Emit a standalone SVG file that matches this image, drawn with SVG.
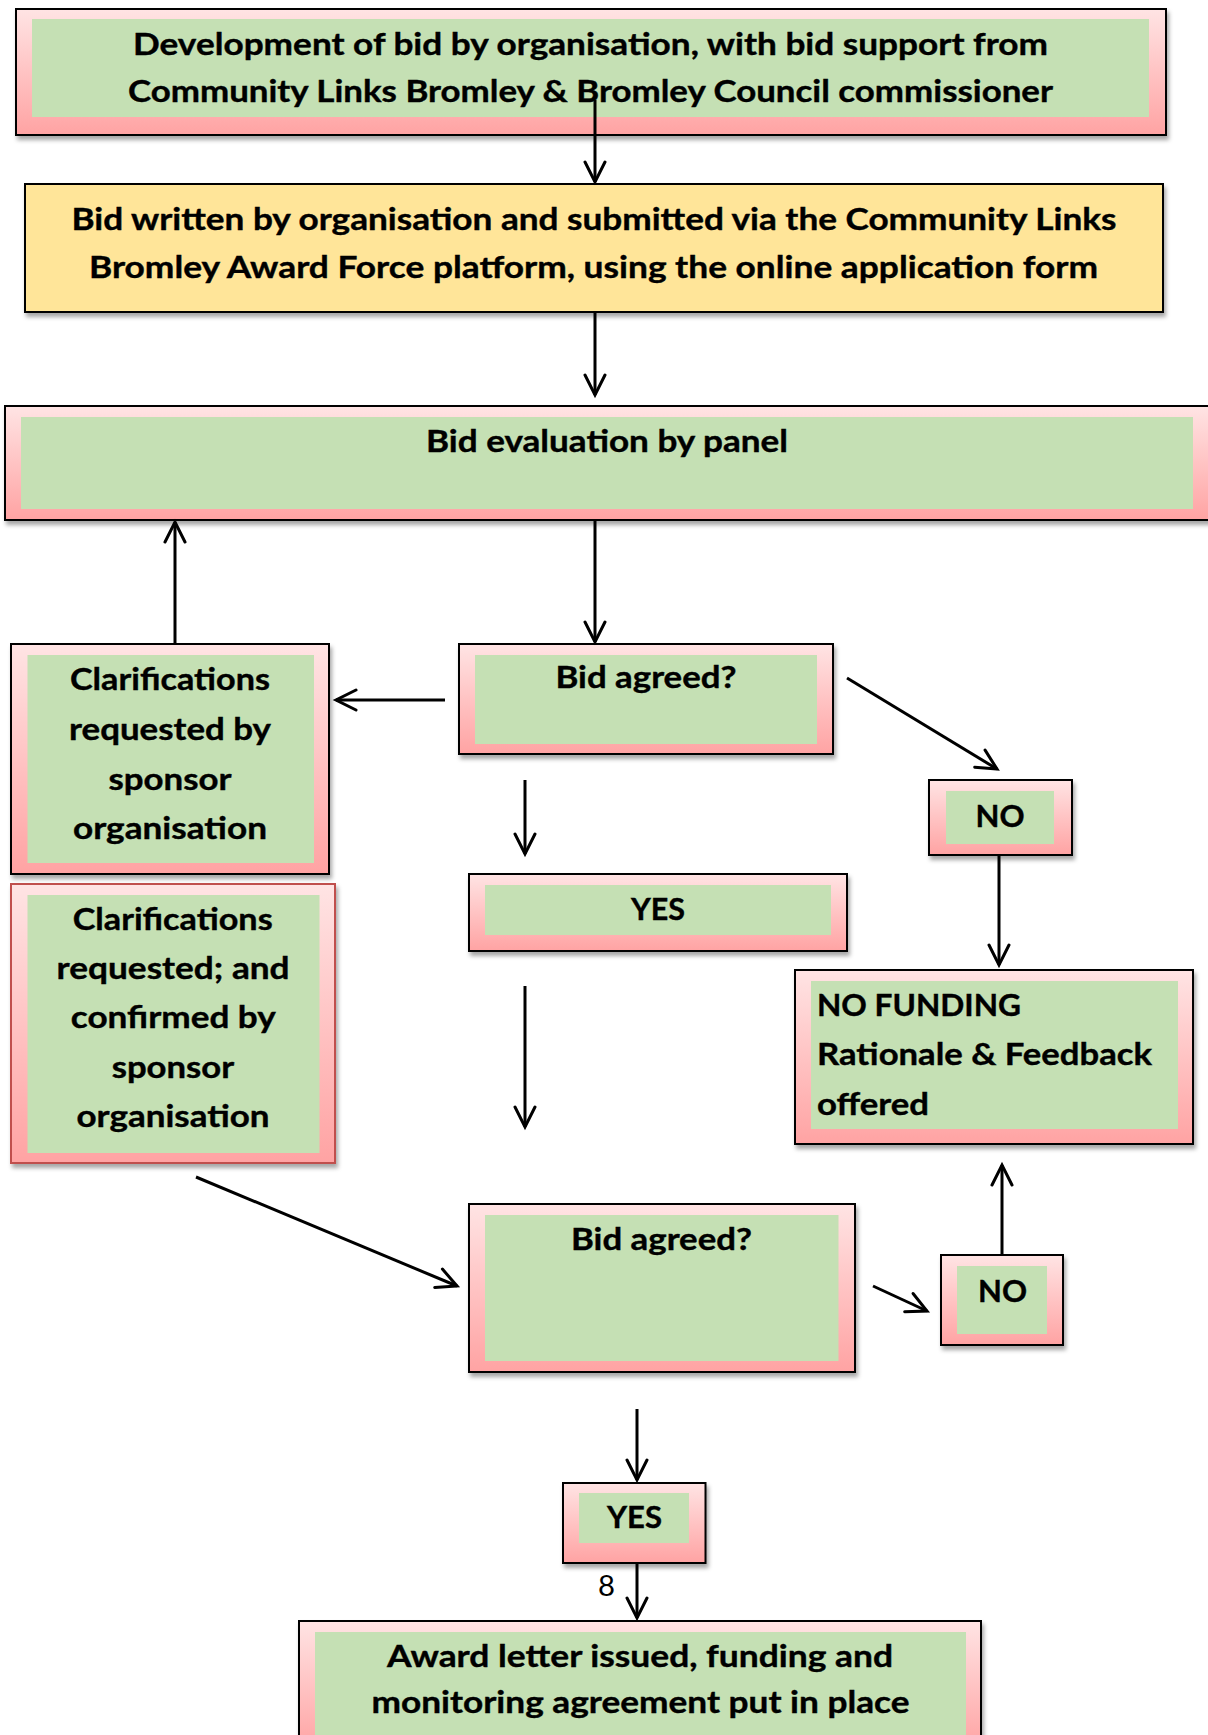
<svg xmlns="http://www.w3.org/2000/svg" width="1208" height="1735" viewBox="0 0 1208 1735">
<defs>
<linearGradient id="pink" x1="0" y1="0" x2="0" y2="1">
<stop offset="0" stop-color="#FFE4E4"/>
<stop offset="1" stop-color="#FFA3A3"/>
</linearGradient>
<filter id="sh" x="-5%" y="-10%" width="110%" height="130%">
<feDropShadow dx="2" dy="4" stdDeviation="2" flood-color="#000" flood-opacity="0.35"/>
</filter>
<marker id="arr" markerUnits="userSpaceOnUse" markerWidth="26" markerHeight="26" viewBox="0 0 26 26" refX="22" refY="12" orient="auto">
<path d="M2,2 L22,12 L2,22" fill="none" stroke="#000" stroke-width="3" stroke-linecap="round" stroke-linejoin="miter"/>
</marker>
</defs>
<style>
.outer{fill:url(#pink);stroke:#000;stroke-width:2;filter:url(#sh)}
.outerR{fill:url(#pink);stroke:#C0504D;stroke-width:2;filter:url(#sh)}
.yel{fill:#FFE599;stroke:#000;stroke-width:2;filter:url(#sh)}
.inner{fill:#C5E0B4}
.t{font-family:Lato,"Open Sans","Liberation Sans",sans-serif;font-weight:700;font-size:31px;fill:#000;stroke:#000;stroke-width:0.4}
.n{font-family:Lato,"Open Sans","Liberation Sans",sans-serif;font-weight:400;font-size:28px;fill:#000}
.c line{stroke:#000;stroke-width:3;marker-end:url(#arr)}
</style>
<rect width="1208" height="1735" fill="#fff"/>

<g id="node-development">
<rect class="outer" x="16" y="9" width="1150" height="126"/>
<rect class="inner" x="32" y="19" width="1117" height="98"/>
<text class="t" x="133" y="55" textLength="915" lengthAdjust="spacingAndGlyphs">Development of bid by organisation, with bid support from</text>
<text class="t" x="128" y="102" textLength="925" lengthAdjust="spacingAndGlyphs">Community Links Bromley &amp; Bromley Council commissioner</text>
</g>

<g id="node-bid-written">
<rect class="yel" x="25" y="184" width="1138" height="128"/>
<text class="t" x="71.5" y="230" textLength="1045" lengthAdjust="spacingAndGlyphs">Bid written by organisation and submitted via the Community Links</text>
<text class="t" x="89" y="278" textLength="1009" lengthAdjust="spacingAndGlyphs">Bromley Award Force platform, using the online application form</text>
</g>

<g id="node-evaluation">
<rect class="outer" x="5" y="406" width="1210" height="114"/>
<rect class="inner" x="21" y="417" width="1172" height="92"/>
<text class="t" x="426" y="452" textLength="362" lengthAdjust="spacingAndGlyphs">Bid evaluation by panel</text>
</g>

<g id="node-agreed-1">
<rect class="outer" x="459" y="644" width="374" height="110"/>
<rect class="inner" x="475" y="655" width="342" height="89"/>
<text class="t" x="555.5" y="688" textLength="181" lengthAdjust="spacingAndGlyphs">Bid agreed?</text>
</g>

<g id="node-clarif-1">
<rect class="outer" x="11" y="644" width="318" height="230"/>
<rect class="inner" x="27.5" y="655" width="286.5" height="208"/>
<text class="t" x="70" y="690" textLength="200" lengthAdjust="spacingAndGlyphs">Clarifications</text>
<text class="t" x="69" y="740" textLength="202" lengthAdjust="spacingAndGlyphs">requested by</text>
<text class="t" x="108.5" y="790" textLength="123" lengthAdjust="spacingAndGlyphs">sponsor</text>
<text class="t" x="73" y="839" textLength="194" lengthAdjust="spacingAndGlyphs">organisation</text>
</g>

<g id="node-no-1">
<rect class="outer" x="929" y="780" width="143" height="75"/>
<rect class="inner" x="946" y="791" width="108" height="53"/>
<text class="t" x="975.5" y="827" textLength="49" lengthAdjust="spacingAndGlyphs">NO</text>
</g>

<g id="node-yes-1">
<rect class="outer" x="469" y="874" width="378" height="77"/>
<rect class="inner" x="485" y="885" width="346" height="50"/>
<text class="t" x="631" y="920" textLength="54" lengthAdjust="spacingAndGlyphs">YES</text>
</g>

<g id="node-no-funding">
<rect class="outer" x="795" y="970" width="398" height="174"/>
<rect class="inner" x="811" y="981" width="367" height="148"/>
<text class="t" x="817" y="1016" textLength="204" lengthAdjust="spacingAndGlyphs">NO FUNDING</text>
<text class="t" x="817" y="1065" textLength="335" lengthAdjust="spacingAndGlyphs">Rationale &amp; Feedback</text>
<text class="t" x="817" y="1115" textLength="112" lengthAdjust="spacingAndGlyphs">offered</text>
</g>

<g id="node-clarif-2">
<rect class="outerR" x="11" y="884" width="324" height="279"/>
<rect class="inner" x="27.5" y="895" width="292" height="258"/>
<text class="t" x="72.7" y="930" textLength="200" lengthAdjust="spacingAndGlyphs">Clarifications</text>
<text class="t" x="56.6" y="979" textLength="233" lengthAdjust="spacingAndGlyphs">requested; and</text>
<text class="t" x="70.8" y="1028" textLength="205" lengthAdjust="spacingAndGlyphs">confirmed by</text>
<text class="t" x="111.7" y="1078" textLength="122.5" lengthAdjust="spacingAndGlyphs">sponsor</text>
<text class="t" x="76.5" y="1127" textLength="193" lengthAdjust="spacingAndGlyphs">organisation</text>
</g>

<g id="node-agreed-2">
<rect class="outer" x="469" y="1204" width="386" height="168"/>
<rect class="inner" x="485" y="1215" width="353.5" height="146"/>
<text class="t" x="571" y="1250" textLength="181" lengthAdjust="spacingAndGlyphs">Bid agreed?</text>
</g>

<g id="node-no-2">
<rect class="outer" x="941" y="1255" width="122" height="90"/>
<rect class="inner" x="957" y="1266" width="90" height="68"/>
<text class="t" x="978" y="1302" textLength="49" lengthAdjust="spacingAndGlyphs">NO</text>
</g>

<g id="node-yes-2">
<rect class="outer" x="563" y="1483" width="142.5" height="80"/>
<rect class="inner" x="579" y="1493" width="110" height="50"/>
<text class="t" x="607" y="1528" textLength="55" lengthAdjust="spacingAndGlyphs">YES</text>
</g>

<g id="node-award">
<rect class="outer" x="299" y="1621" width="682" height="130"/>
<rect class="inner" x="315" y="1632" width="651" height="120"/>
<text class="t" x="387" y="1667" textLength="506" lengthAdjust="spacingAndGlyphs">Award letter issued, funding and</text>
<text class="t" x="371.5" y="1713" textLength="538" lengthAdjust="spacingAndGlyphs">monitoring agreement put in place</text>
</g>

<g id="connectors" class="c">
<line x1="595" y1="100" x2="595" y2="182"/>
<line x1="595" y1="313" x2="595" y2="395"/>
<line x1="595" y1="520" x2="595" y2="642"/>
<line x1="445" y1="700" x2="336" y2="700"/>
<line x1="175" y1="644" x2="175" y2="522"/>
<line x1="847" y1="678" x2="997" y2="769"/>
<line x1="525" y1="780" x2="525" y2="854"/>
<line x1="999" y1="855" x2="999" y2="965"/>
<line x1="525" y1="986" x2="525" y2="1127"/>
<line x1="196" y1="1177" x2="457" y2="1286"/>
<line x1="873" y1="1286" x2="927" y2="1311"/>
<line x1="1002" y1="1255" x2="1002" y2="1165"/>
<line x1="637" y1="1409" x2="637" y2="1480"/>
<line x1="637" y1="1563" x2="637" y2="1618"/>
</g>
<text class="n" x="598" y="1596" textLength="17" lengthAdjust="spacingAndGlyphs">8</text>
</svg>
